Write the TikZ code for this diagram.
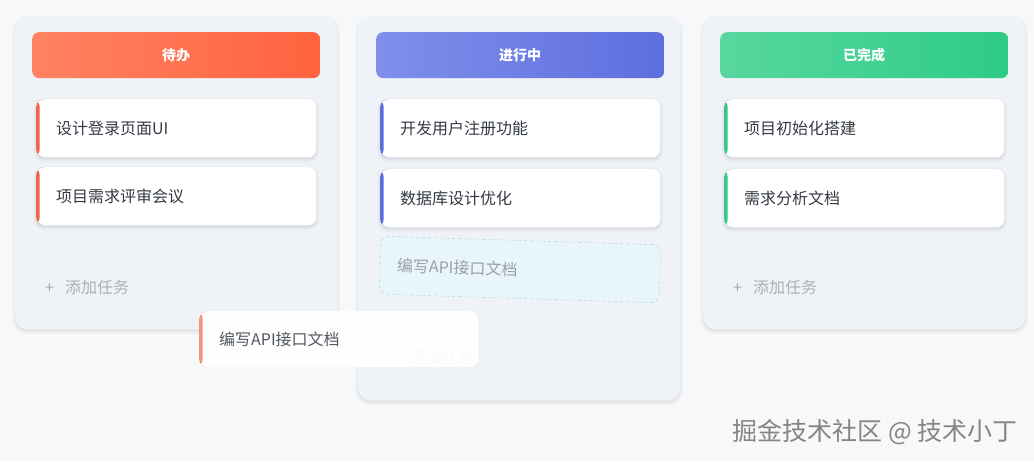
\documentclass[tikz,border=0pt]{standalone}
\usepackage{fontspec}
\setmainfont{Noto Sans CJK SC}
\definecolor{pagebg}{HTML}{F6F8FA}
\definecolor{colbg}{HTML}{EFF2F6}
\definecolor{orA}{HTML}{FF8262}
\definecolor{orB}{HTML}{FF633F}
\definecolor{blA}{HTML}{808FEA}
\definecolor{blB}{HTML}{5D6FE0}
\definecolor{grA}{HTML}{58D79F}
\definecolor{grB}{HTML}{2ECC86}
\definecolor{acOr}{HTML}{EE6444}
\definecolor{acBl}{HTML}{5B6CDC}
\definecolor{acGr}{HTML}{36C585}
\definecolor{acDrag}{HTML}{F08C72}
\definecolor{cardtext}{HTML}{343A44}
\definecolor{addtext}{HTML}{AAB0B8}
\definecolor{phfill}{HTML}{E8F5FA}
\definecolor{phborder}{HTML}{9FD8E6}
\definecolor{phtext}{HTML}{9AA0A8}
\definecolor{wmtext}{HTML}{858585}
\begin{document}
\begin{tikzpicture}[x=1pt,y=-1pt,
  softshadow/.style={
    preaction={draw=black, draw opacity=0.025, line width=6pt, fill=black, fill opacity=0.03, transform canvas={yshift=-2pt}},
    preaction={draw=black, draw opacity=0.03, line width=2.5pt, transform canvas={yshift=-2pt}}},
  column/.style={fill=colbg, rounded corners=12pt, anchor=north west, inner sep=0pt,
    minimum width=322pt, softshadow},
  header/.style n args={2}{anchor=north west, minimum width=288pt, minimum height=46pt,
    rounded corners=7pt, left color=#1, right color=#2, text=white,
    font=\bfseries\fontsize{14}{16}\selectfont, inner sep=0pt},
  card/.style={anchor=north west, minimum height=58pt, rounded corners=8pt, fill=white,
    text=cardtext, font=\fontsize{16}{19}\selectfont, align=left,
    text width=240pt, inner xsep=20pt, inner ysep=0pt, softshadow,
    path picture={\fill[#1] (path picture bounding box.north west) rectangle ([xshift=3.5pt]path picture bounding box.south west);}},
  addtask/.style={anchor=west, text=addtext, font=\fontsize{16}{19}\selectfont, inner sep=0pt},
  ]
\useasboundingbox[fill=pagebg] (0,0) rectangle (1034,461);

% columns
\node[column, minimum height=312pt] (colA) at (15,17) {};
\node[column, minimum height=383pt] (colB) at (358,17) {};
\node[column, minimum height=312pt] (colC) at (703,17) {};

% headers
\node[header={orA}{orB}] (hA) at (32,32) {待办};
\node[header={blA}{blB}] (hB) at (376,32) {进行中};
\node[header={grA}{grB}] (hC) at (720,32) {已完成};

% column 1 cards
\node[card=acOr] (a1) at (36,99) {设计登录页面UI};
\node[card=acOr] (a2) at (36,167) {项目需求评审会议};
\node[addtask] (addA) at (45,287) {+\hspace{11pt}添加任务};

% column 2 cards
\node[card=acBl] (b1) at (380,99) {开发用户注册功能};
\node[card=acBl] (b2) at (380,169) {数据库设计优化};
\node[draw=phborder, dashed, fill=phfill, rounded corners=8pt, minimum width=280pt,
  minimum height=58pt, rotate=-1.8, text=phtext, font=\fontsize{16}{19}\selectfont,
  text width=246pt, inner xsep=17pt, inner ysep=0pt, align=left] (ph) at (520,269.5) {编写API接口文档};
\node[addtask] (addB) at (390,357) {+\hspace{11pt}添加任务};

% column 3 cards
\node[card=acGr] (c1) at (724,99) {项目初始化搭建};
\node[card=acGr] (c2) at (724,169) {需求分析文档};
\node[addtask] (addC) at (733,287) {+\hspace{11pt}添加任务};

% dragged card
\node[anchor=north west, minimum height=56pt, minimum width=279pt, rounded corners=8pt,
  fill=white, fill opacity=0.93, text opacity=1, text=cardtext!85!white,
  font=\fontsize{16}{19}\selectfont, align=left, text width=239pt, inner xsep=20pt, inner ysep=0pt,
  path picture={\fill[acDrag] (path picture bounding box.north west) rectangle ([xshift=3.5pt]path picture bounding box.south west);}]
  (drag) at (199,311) {编写API接口文档};

% watermark
\node[anchor=east, text=wmtext, font=\fontsize{25}{28}\selectfont, inner sep=0pt] (wm) at (1018,432) {掘金技术社区 @ 技术小丁};
\end{tikzpicture}
\end{document}
